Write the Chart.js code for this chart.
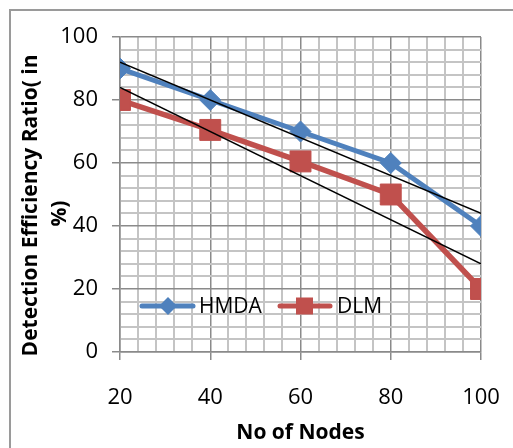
<!DOCTYPE html>
<html>
<head>
<meta charset="utf-8">
<script src="https://cdn.jsdelivr.net/npm/chart.js@4"></script>
<style>
  body { margin: 0; background: #fff; }
</style>
</head>
<body>
<canvas id="myChart" width="513" height="448"></canvas>
<script>
//////////////////// Data ////////////////////
const nodes = [20, 40, 60, 80, 100];
const hmda = [90, 80, 70, 60, 40];
const dlm = [80, 70.5, 60.5, 50, 20];
// linear trendlines, end values
const trendX = [20, 100];
const hmdaTrend = [92, 44];
const dlmTrend = [84, 28];
const yTicks = [0, 20, 40, 60, 80, 100];
const xTicks = [20, 40, 60, 80, 100];

const BLUE = '#4F81BD';
const RED = '#C0504D';
const MAJOR = '#8a8a8a';
const MINOR = '#c4c4c4';
const FONT = "'Open Sans', sans-serif";

const toPoints = (xs, ys) => xs.map((x, i) => ({ x: x, y: ys[i] }));

//////////// Outer frame + legend ////////////
const frame = {
  id: 'frame',
  beforeDraw(chart) {
    const { ctx } = chart;
    ctx.save();
    ctx.strokeStyle = '#9a9a9a';
    ctx.lineWidth = 2;
    ctx.strokeRect(10, 10, 520, 460);
    ctx.restore();
  }
};

const legendInside = {
  id: 'legendInside',
  afterDraw(chart) {
    const { ctx } = chart;
    const y = 306;
    ctx.save();
    ctx.lineWidth = 5;
    ctx.lineCap = 'round';
    // HMDA
    ctx.strokeStyle = BLUE;
    ctx.beginPath(); ctx.moveTo(142, y); ctx.lineTo(193, y); ctx.stroke();
    ctx.fillStyle = BLUE;
    ctx.beginPath();
    ctx.moveTo(168, y - 9); ctx.lineTo(177, y); ctx.lineTo(168, y + 9); ctx.lineTo(159, y);
    ctx.closePath(); ctx.fill();
    // DLM
    ctx.strokeStyle = RED;
    ctx.beginPath(); ctx.moveTo(280, y); ctx.lineTo(330, y); ctx.stroke();
    ctx.fillStyle = RED;
    ctx.fillRect(296, y - 8.5, 17, 17);
    // labels
    ctx.fillStyle = '#000';
    ctx.font = '21px ' + FONT;
    ctx.textBaseline = 'middle';
    ctx.fillText(chart.data.datasets[2].label, 199, y + 1);
    ctx.fillText(chart.data.datasets[3].label, 337, y + 1);
    ctx.restore();
  }
};

const majorOr = (ctx, a, b) => (ctx.tick && ctx.tick.value % 20 === 0) ? a : b;

const config = {
  type: 'line',
  data: {
    datasets: [{
      label: 'HMDA trend',
      data: toPoints(trendX, hmdaTrend),
      borderColor: '#000',
      borderWidth: 1.5,
      pointRadius: 0
    }, {
      label: 'DLM trend',
      data: toPoints(trendX, dlmTrend),
      borderColor: '#000',
      borderWidth: 1.5,
      pointRadius: 0
    }, {
      label: 'HMDA',
      data: toPoints(nodes, hmda),
      borderColor: BLUE,
      backgroundColor: BLUE,
      borderWidth: 5,
      pointStyle: 'rectRot',
      pointRadius: 10.5,
      pointBorderWidth: 1,
      pointBorderColor: BLUE
    }, {
      label: 'DLM',
      data: toPoints(nodes, dlm),
      borderColor: RED,
      backgroundColor: RED,
      borderWidth: 5.5,
      pointStyle: 'rect',
      pointRadius: 14.8,
      pointBorderWidth: 1,
      pointBorderColor: RED
    }]
  },
  options: {
    responsive: false,
    animation: false,
    layout: { padding: { top: 37, right: 32, left: 0, bottom: 0 } },
    plugins: { legend: { display: false }, tooltip: { enabled: false } },
    scales: {
      x: {
        type: 'linear',
        min: 20,
        max: 100,
        afterFit(scale) {
          scale.height = 96;
          scale.paddingLeft = 0;
          scale.paddingRight = 0;
        },
        afterBuildTicks(scale) {
          const t = [];
          for (let v = 20; v <= 100; v += 4) t.push({ value: v });
          scale.ticks = t;
        },
        ticks: {
          autoSkip: false,
          maxRotation: 0,
          padding: 25,
          color: '#000',
          font: { family: FONT, size: 22 },
          callback: (v) => xTicks.includes(v) ? v : ''
        },
        grid: {
          color: (c) => majorOr(c, MAJOR, MINOR),
          tickColor: (c) => majorOr(c, MAJOR, 'rgba(0,0,0,0)'),
          lineWidth: (c) => majorOr(c, 1.5, 2),
          tickLength: 8
        },
        border: { color: MAJOR, width: 1.5 },
        title: {
          display: true,
          text: 'No of Nodes',
          color: '#000',
          padding: { top: 0, bottom: 2 },
          font: { family: FONT, size: 21, weight: 'bold', lineHeight: 1.2 }
        }
      },
      y: {
        min: 0,
        max: 100,
        afterFit(scale) { scale.width = 120; },
        afterBuildTicks(scale) {
          const t = [];
          for (let v = 0; v <= 100; v += 4) t.push({ value: v });
          scale.ticks = t;
        },
        ticks: {
          autoSkip: false,
          padding: 14,
          color: '#000',
          font: { family: FONT, size: 22 },
          callback: (v) => yTicks.includes(v) ? v : ''
        },
        grid: {
          color: (c) => majorOr(c, MAJOR, MINOR),
          tickColor: (c) => majorOr(c, MAJOR, 'rgba(0,0,0,0)'),
          lineWidth: (c) => majorOr(c, 1.5, 2),
          tickLength: 8
        },
        border: { color: MAJOR, width: 1.5 },
        title: {
          display: true,
          // trailing spaces nudge the centred text down a little
          text: ['Detection Efficiency Ratio( in    ', '%)       '],
          color: '#000',
          padding: { top: 16, bottom: 0 },
          font: { family: FONT, size: 21, weight: 'bold', lineHeight: 1.4 }
        }
      }
    }
  },
  plugins: [frame, legendInside]
};

new Chart(document.getElementById('myChart').getContext('2d'), config);
</script>
</body>
</html>
